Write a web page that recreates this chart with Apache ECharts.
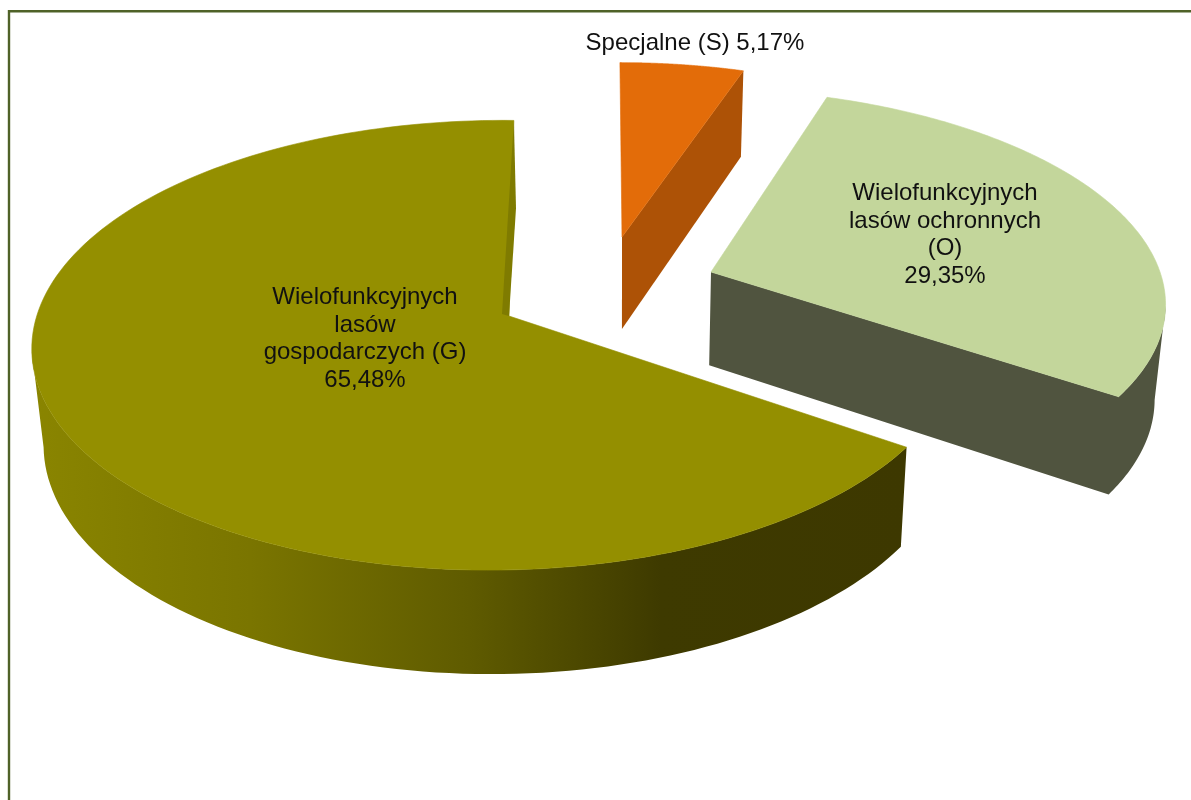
<!DOCTYPE html>
<html><head><meta charset="utf-8">
<style>html,body{margin:0;padding:0;background:#fff}#c{width:1191px;height:800px}</style>
<script src="https://cdn.jsdelivr.net/npm/echarts@6/dist/echarts.min.js"></script>
</head><body><div id="c"></div>
<script>
// Data
const categories = ['Specjalne (S)', 'Wielofunkcyjnych lasów ochronnych (O)', 'Wielofunkcyjnych lasów gospodarczych (G)'];
const shares = [5.17, 29.35, 65.48];
const shareLabels = ['5,17%', '29,35%', '65,48%'];
const labelLines = [
  ['Specjalne (S) 5,17%'],
  ['Wielofunkcyjnych', 'lasów ochronnych', '(O)', '29,35%'],
  ['Wielofunkcyjnych', 'lasów', 'gospodarczych (G)', '65,48%']
];
// Look
const topColors = ['#e36c09', '#c3d69b', '#948f00'];
const faceColors = ['#ad5206', '#50543f', '#7f7b00'];
const labelPos = [[695, 43], [945, 235], [365, 339]];
// per-slice perspective frame (the exploded slices are seen from slightly different angles)
const frames = [
  {ax: 622, ay: 237, rx: 432, ry: 196, k: 0.124, m: 0, shear: 0.012},
  {ax: 711, ay: 272, rx: 449, ry: 206, k: 0.124, m: 0, shear: 0.07},
  {ax: 509, ay: 316, rx: 460, ry: 221, k: 0.13, m: 0.026, shear: -0.025}
];
const depth = {h: 86, sy: 0.036, sx: 0.02, vx: 620, vy: 70};

function lower(p) {
  return [p[0] - (p[0] - depth.vx) * depth.sx, p[1] + depth.h + depth.sy * (p[1] - depth.vy)];
}
const total = shares.reduce((a, b) => a + b, 0);

function renderItem(params, api) {
  const i = params.dataIndex;
  let start = 0;
  for (let j = 0; j < i; j++) start += shares[j];
  const a0 = start / total * 2 * Math.PI;
  const a1 = (start + api.value(0)) / total * 2 * Math.PI;
  const f = frames[i];
  const rimPt = a => {
    const X = Math.sin(a), Y = Math.cos(a), w = 1 + f.k * Y + f.m * X;
    const dy = -f.ry * Y / w;
    return [f.ax + f.rx * X / w + f.shear * dy, f.ay + dy];
  };
  const apex = [f.ax, f.ay];
  const n = 160, rim = [];
  for (let t = 0; t <= n; t++) rim.push(rimPt(a0 + (a1 - a0) * t / n));
  const children = [];
  const poly = (pts, fill, stroke) => children.push({
    type: 'polygon', silent: true, shape: {points: pts},
    style: stroke ? {fill: fill, stroke: stroke, lineWidth: 0.6} : {fill: fill}
  });

  if (i === 0) {
    // cut face along the slice's trailing radius
    poly([apex, lower(apex), lower(rim[n]), rim[n]], faceColors[0]);
  } else if (i === 1) {
    // cut face and outer wall, starting at the rightmost rim point
    let s = 0;
    rim.forEach((p, t) => { if (p[0] > rim[s][0]) s = t; });
    const arc = rim.slice(s);
    poly([apex, lower(apex)].concat(arc.map(lower).reverse(), arc), faceColors[1]);
  } else {
    // outer wall with its shading, ending at the leftmost rim point
    let s = 0;
    rim.forEach((p, t) => { if (p[0] < rim[s][0]) s = t; });
    const arc = rim.slice(0, s + 1);
    poly(arc.concat(arc.map(lower).reverse()), {
      type: 'linear', x: 0, y: 0, x2: 1, y2: 0,
      colorStops: [
        {offset: 0, color: '#8a8500'},
        {offset: 0.25, color: '#7a7500'},
        {offset: 0.5, color: '#5f5b00'},
        {offset: 0.72, color: '#3e3a00'},
        {offset: 1, color: '#3d3800'}
      ]
    });
  }
  poly([apex].concat(rim), topColors[i], topColors[i]);
  if (i === 2) {
    // cut face at twelve o'clock showing as a thin sliver
    const c = rim[n];
    poly([c, lower(c), apex, [apex[0] - 7, apex[1] - 2]], faceColors[2]);
  }
  const lines = labelLines[i], lh = 27.5;
  lines.forEach((txt, k) => {
    children.push({
      type: 'text', silent: true,
      style: {
        x: labelPos[i][0], y: labelPos[i][1] + (k - (lines.length - 1) / 2) * lh,
        text: txt, fill: '#111', fontSize: 24, fontFamily: 'Liberation Sans',
        align: 'center', verticalAlign: 'middle'
      }
    });
  });
  return {type: 'group', children: children};
}

const chart = echarts.init(document.getElementById('c'), null, {renderer: 'canvas'});
chart.setOption({
  animation: false,
  backgroundColor: '#fff',
  graphic: [{
    type: 'rect', silent: true, z: -1,
    shape: {x: 9, y: 11.2, width: 1190, height: 800},
    style: {fill: '#fff', stroke: '#4f6228', lineWidth: 2.4}
  }],
  series: [{
    type: 'custom',
    coordinateSystem: 'none',
    renderItem: renderItem,
    encode: {value: 0, itemName: 1},
    data: shares.map((v, i) => ({value: [v, shareLabels[i]], name: categories[i]}))
  }]
});
</script></body></html>
